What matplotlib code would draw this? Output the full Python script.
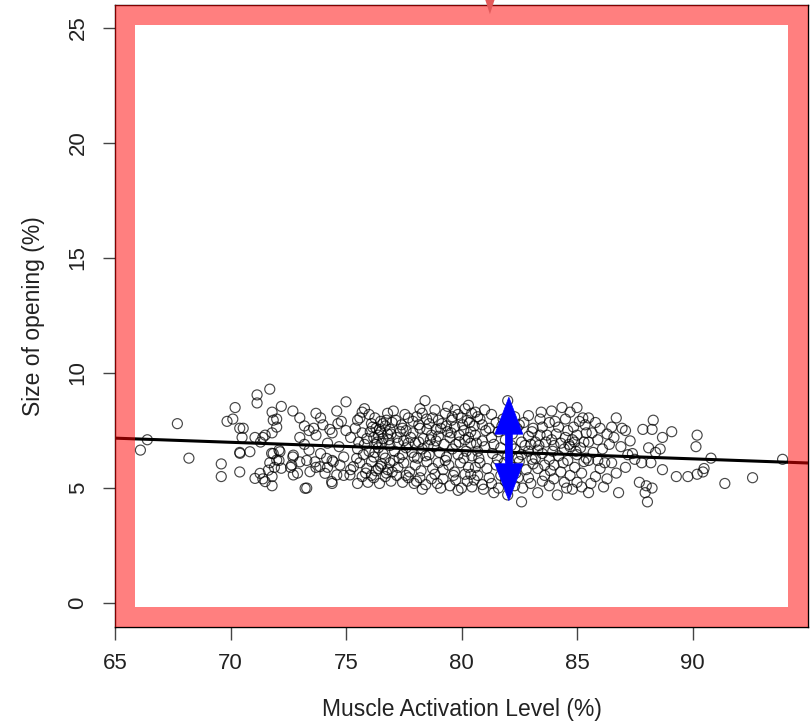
import numpy as np
import matplotlib
matplotlib.use("Agg")
import matplotlib.pyplot as plt
from matplotlib.patches import Rectangle, Polygon

plt.rcParams['font.family'] = ['Liberation Sans', 'DejaVu Sans']

# ---------------- data ----------------
activation = [
    66.1, 66.4, 67.7, 68.2, 69.6, 69.6, 69.85, 70.2, 70.1, 70.4,
    70.5, 70.4, 70.4, 70.55, 70.84, 71.06, 71.15, 71.15, 71.7, 72.2,
    71.8, 71.85, 72.0, 71.8, 71.4, 71.5, 72.7, 73.0, 73.2, 73.0,
    72.1, 71.85, 71.7, 72.1, 71.9, 71.4, 71.06, 71.8, 71.8, 71.28,
    71.5, 72.6, 72.9, 73.3, 72.7, 73.3, 73.7, 73.9, 74.4, 73.7,
    73.9, 74.6, 75.0, 74.65, 74.4, 75.0, 74.2, 74.4, 74.9, 75.2,
    75.5, 75.7, 75.5, 73.7, 73.4, 73.4, 74.2, 74.9, 71.78, 72.14,
    72.0, 72.2, 71.64, 72.72, 72.65, 73.0, 72.72, 73.44, 73.66, 73.87,
    74.16, 74.09, 74.45, 74.6, 74.74, 75.17, 75.32, 75.46, 73.23, 74.38,
    70.41, 72.0, 71.3, 73.6, 74.0, 74.3, 74.8, 75.2, 74.7, 73.2,
    # 75.4 - 80.5
    75.8, 76.8, 76.25, 75.6, 75.4, 75.7, 76.1, 76.3, 76.5, 76.7,
    76.4, 76.6, 76.9, 77.0, 76.2, 76.5, 76.8, 76.35, 76.05, 76.75,
    77.7, 78.06, 78.42, 78.49, 78.85, 79.0, 79.3, 79.57, 79.72, 80.0,
    80.15, 80.44, 77.4, 77.6, 77.9, 78.2, 78.5, 78.7, 79.1, 79.4,
    79.7, 80.1, 80.3, 77.2, 77.5, 78.0, 78.35, 78.9, 79.25, 79.9,
    75.5, 75.8, 76.0, 76.2, 76.4, 76.6, 76.9, 77.1, 77.3, 77.6,
    77.85, 78.1, 78.3, 78.6, 78.8, 79.05, 79.35, 79.6, 79.85, 80.2,
    75.6, 75.9, 76.1, 76.3, 76.55, 76.8, 77.05, 77.25, 77.5, 77.75,
    78.0, 78.25, 78.5, 78.75, 79.0, 79.2, 79.45, 79.7, 79.95, 80.3,
    75.7, 75.95, 76.2, 76.45, 76.7, 76.95, 77.2, 77.45, 77.7, 77.95,
    78.2, 78.45, 78.7, 78.95, 79.2, 79.5, 79.75, 80.0, 80.25, 80.45,
    76.15, 76.45, 76.6, 76.85, 76.3, 76.55, 76.7, 76.25, 76.5, 76.9,
    77.0, 76.75, 76.4, 76.1, 77.35, 77.8, 78.15, 78.6, 79.15, 79.5,
    80.05, 80.35, 77.55, 78.3, 79.85, 80.4, 80.1, 79.3, 78.45, 77.45,
    77.15, 77.9, 78.75, 79.6, 80.25, 78.05, 78.85, 79.65, 80.15, 77.6,
    78.3, 79.1, 79.85, 80.4, 78.55, 79.75, 80.45, 77.95, 76.95, 77.25,
    75.9, 75.55, 75.75, 75.85, 76.0, 77.05, 78.2, 79.4, 80.3, 78.9,
    79.55, 79.9, 80.15, 80.4, 77.7, 78.65, 79.0, 79.35, 78.15, 77.45,
    # 80.5 - 85.5
    81.0, 80.7, 80.9, 81.5, 81.2, 82.0, 82.7, 83.1, 83.4, 84.35,
    84.7, 85.0, 85.25, 85.35, 83.7, 83.9, 84.1, 84.3, 84.5, 84.7,
    84.8, 84.0, 84.45, 83.0, 83.3, 80.8, 81.1, 81.5, 80.7, 81.2,
    81.7, 80.9, 81.4, 82.6, 82.65, 82.9, 83.3, 83.6, 84.0, 84.3,
    84.7, 85.0, 83.8, 84.55, 83.3, 84.15, 80.6, 80.9, 81.3, 81.6,
    81.9, 82.2, 82.4, 82.6, 82.9, 83.2, 83.5, 83.8, 84.2, 84.6,
    85.0, 85.3, 80.7, 81.0, 81.35, 81.7, 82.0, 82.3, 82.6, 82.9,
    83.2, 83.5, 83.8, 84.2, 84.6, 85.0, 85.3, 81.85, 82.2, 82.5,
    82.8, 83.1, 83.6, 84.9, 85.2, 80.6, 81.3, 81.9, 82.3, 82.0,
    80.8, 81.3, 81.8, 82.3, 82.9, 83.4, 83.9, 84.5, 85.1, 80.55,
    81.05, 81.75, 82.5, 83.05, 83.65, 84.05, 84.85, 80.65, 81.4, 82.15,
    82.75, 83.35, 84.65, 85.15, 80.75, 81.55, 82.45, 83.05, 83.95, 84.95,
    80.55, 81.6, 82.1, 82.45, 83.5, 84.0, 84.45, 85.2, 83.0, 84.8,
    80.95, 81.85, 82.35, 83.85, 84.4, 85.4, 80.6, 84.9, 85.4, 83.45,
    # 85.5 - 94
    85.5, 85.8, 86.0, 85.65, 85.9, 85.5, 86.7, 86.5, 86.95, 87.1,
    88.3, 87.85, 88.25, 89.1, 90.2, 90.15, 86.9, 87.4, 88.1, 88.4,
    88.6, 87.8, 88.2, 88.7, 89.3, 89.8, 90.2, 87.1, 86.7, 86.3,
    85.6, 85.5, 86.8, 87.7, 88.0, 88.25, 87.95, 88.05, 86.2, 85.9,
    86.5, 85.5, 90.8, 90.5, 90.45, 91.4, 92.6, 93.9, 86.1, 86.4,
    86.6, 87.3, 87.5, 85.7, 86.0, 86.3, 87.2, 88.7, 85.8, 86.15,
]

opening = [
    6.65, 7.1, 7.8, 6.3, 6.05, 5.5, 7.9, 8.5, 8.0, 7.6,
    7.2, 6.55, 5.7, 7.6, 6.58, 7.2, 9.05, 8.7, 9.3, 8.55,
    8.3, 7.95, 7.65, 7.4, 7.2, 7.3, 8.35, 8.05, 7.7, 7.2,
    6.65, 6.5, 6.1, 6.2, 5.9, 5.4, 5.42, 5.1, 5.5, 5.64,
    5.28, 5.9, 5.65, 5.0, 6.35, 6.2, 5.9, 6.5, 5.2, 8.25,
    8.05, 8.35, 8.75, 7.8, 7.4, 7.5, 6.95, 6.2, 6.35, 5.8,
    5.2, 8.3, 7.95, 7.3, 7.5, 6.65, 5.9, 5.55, 6.51, 6.58,
    6.22, 5.86, 5.78, 6.43, 6.0, 6.14, 5.57, 5.71, 6.14, 5.93,
    6.29, 5.64, 6.14, 5.57, 6.0, 5.57, 5.93, 6.29, 4.99, 5.28,
    6.51, 8.0, 7.0, 7.6, 7.75, 7.55, 7.9, 7.2, 6.8, 6.9,
    # 75.4 - 80.5
    8.45, 8.25, 8.05, 8.05, 7.6, 7.4, 7.8, 7.6, 7.45, 7.7,
    7.3, 7.15, 7.55, 7.85, 7.2, 7.9, 7.35, 7.0, 7.45, 7.95,
    8.05, 8.1, 8.8, 8.0, 8.4, 7.95, 8.25, 7.95, 8.4, 8.05,
    8.45, 8.25, 7.75, 7.5, 7.4, 7.6, 7.55, 7.3, 7.6, 7.45,
    7.65, 7.5, 7.2, 7.2, 7.05, 6.95, 7.15, 7.05, 6.9, 7.0,
    6.7, 6.9, 6.6, 6.35, 6.75, 6.5, 6.85, 6.6, 6.3, 6.75,
    6.55, 6.3, 6.7, 6.45, 6.8, 6.55, 6.35, 6.7, 6.45, 6.6,
    6.1, 5.85, 6.15, 5.75, 6.05, 5.8, 6.2, 5.9, 6.1, 5.7,
    6.0, 5.75, 6.15, 5.85, 6.1, 5.8, 6.0, 5.7, 6.1, 5.9,
    5.5, 5.25, 5.45, 5.2, 5.5, 5.3, 5.55, 5.25, 5.45, 5.2,
    5.45, 5.15, 5.4, 5.2, 5.4, 5.1, 5.35, 5.0, 5.3, 5.05,
    7.65, 7.55, 7.8, 7.1, 6.9, 6.95, 6.3, 6.55, 5.95, 6.1,
    5.7, 5.65, 5.85, 5.55, 7.45, 7.2, 7.0, 7.8, 7.8, 7.2,
    7.75, 7.85, 8.2, 8.25, 8.2, 6.95, 6.3, 6.2, 6.4, 6.45,
    7.95, 7.9, 8.05, 8.1, 7.95, 5.3, 5.6, 5.55, 5.6, 5.55,
    4.95, 5.0, 4.9, 5.6, 6.85, 6.9, 6.4, 6.35, 7.35, 6.95,
    7.15, 7.0, 6.45, 5.65, 8.2, 8.35, 8.45, 8.55, 8.6, 7.55,
    7.4, 7.3, 7.1, 7.45, 6.95, 7.1, 7.25, 7.7, 7.75, 7.6,
    # 80.5 - 85.5
    8.4, 8.1, 7.75, 7.85, 7.6, 8.8, 7.85, 7.6, 7.3, 8.5,
    8.3, 8.5, 8.05, 7.75, 7.3, 7.1, 7.35, 6.95, 7.2, 6.8,
    7.1, 6.85, 6.7, 6.9, 6.65, 6.1, 5.85, 6.0, 5.55, 5.45,
    5.55, 5.15, 4.8, 4.4, 5.0, 5.45, 5.85, 5.55, 6.0, 5.7,
    5.55, 5.25, 5.1, 5.0, 4.8, 4.7, 7.3, 7.05, 7.2, 7.45,
    7.1, 7.35, 7.6, 7.0, 7.25, 7.0, 7.65, 7.85, 7.65, 7.5,
    7.3, 7.0, 6.6, 6.8, 6.5, 6.75, 6.4, 6.7, 6.45, 6.6,
    6.3, 6.5, 6.25, 6.4, 6.2, 6.45, 6.15, 6.1, 5.9, 6.15,
    5.8, 6.05, 6.0, 5.9, 5.65, 5.9, 5.2, 5.3, 5.1, 4.7,
    8.0, 8.2, 8.0, 8.1, 8.15, 8.0, 8.35, 8.0, 7.9, 7.7,
    7.5, 7.7, 7.75, 7.45, 7.0, 7.9, 7.65, 6.95, 6.9, 6.85,
    6.85, 6.85, 6.9, 6.75, 6.3, 6.25, 6.3, 6.25, 6.6, 6.6,
    5.35, 5.0, 5.6, 5.45, 5.3, 5.4, 5.25, 5.05, 5.2, 4.95,
    4.95, 5.75, 5.65, 5.75, 6.1, 6.3, 8.3, 7.0, 7.4, 8.3,
    # 85.5 - 94
    8.05, 7.85, 7.6, 7.4, 7.1, 7.0, 8.05, 7.65, 7.6, 7.5,
    7.95, 7.55, 7.55, 7.45, 7.3, 6.8, 6.8, 6.5, 6.75, 6.55,
    6.7, 6.1, 6.1, 5.8, 5.5, 5.5, 5.6, 5.9, 5.65, 5.4,
    5.2, 4.8, 4.8, 5.25, 5.1, 5.0, 4.8, 4.4, 6.1, 6.2,
    6.1, 6.2, 6.3, 5.85, 5.7, 5.2, 5.45, 6.25, 6.7, 6.9,
    7.2, 7.05, 6.25, 6.55, 5.85, 7.35, 6.45, 7.2, 5.5, 5.05,
]

x_ticks = [65, 70, 75, 80, 85, 90]
y_ticks = [0, 5, 10, 15, 20, 25]
x_label = "Muscle Activation Level (%)"
y_label = "Size of opening (%)"

# regression line as drawn in the picture (value at x=65 and slope)
fit_intercept_at_65 = 7.17
fit_slope = -0.036

# blue double arrow (data units)
arrow_x = 82.05
arrow_y_top = 8.95
arrow_y_bottom = 4.45

# ---------------- figure ----------------
W, H = 812, 724
fig = plt.figure(figsize=(W / 100, H / 100), dpi=100)
left_px, right_px, top_px, bottom_px = 115, 808, 5, 627
ax = fig.add_axes([left_px / W, (H - bottom_px) / H,
                   (right_px - left_px) / W, (bottom_px - top_px) / H])

ax.set_xlim(65, 95.0)
ax.set_ylim(-1.04, 26.0)

ax.scatter(activation, opening, s=52, facecolors='none',
           edgecolors='black', linewidths=0.85, alpha=0.72, zorder=2)

xl = np.array(ax.get_xlim())
ax.plot(xl, fit_intercept_at_65 + fit_slope * (xl - 65), color='black',
        lw=2.2, zorder=3)

ax.set_xticks(x_ticks)
ax.set_yticks(y_ticks)
ax.tick_params(axis='both', direction='out', length=9, width=1,
               color='#444444', labelsize=16, labelcolor='#222222', pad=10)
for lab in ax.get_yticklabels():
    lab.set_rotation(90)
    lab.set_va('center')
ax.set_xlabel(x_label, fontsize=16.5, color='#222222', labelpad=17)
ax.set_ylabel(y_label, fontsize=16.5, color='#222222', labelpad=16)
for sp in ax.spines.values():
    sp.set_color('black')
    sp.set_linewidth(1)

# thick translucent red frame over the plot region
bw = 20 / 100 * 72  # 20 px in points
rect = Rectangle((0, 0), 1, 1, transform=ax.transAxes, fill=False,
                 edgecolor=(1, 0, 0, 0.5), linewidth=bw * 2,
                 clip_on=True, zorder=10)
ax.add_patch(rect)

# small red arrow tip at the top
tri = Polygon([(81.02, 26.25), (81.44, 26.25), (81.23, 25.6)], closed=True,
              facecolor='#e35a5a', edgecolor='none', clip_on=False, zorder=11,
              transform=ax.transData)
ax.add_patch(tri)

# blue double-headed arrow, sizes given in pixels and converted to data units
px_x = (ax.get_xlim()[1] - ax.get_xlim()[0]) / (right_px - left_px)
px_y = (ax.get_ylim()[1] - ax.get_ylim()[0]) / (bottom_px - top_px)
head_len = 37 * px_y
head_half = 14 * px_x
shaft_half = 3.5 * px_x
verts = [
    (arrow_x, arrow_y_top),
    (arrow_x + head_half, arrow_y_top - head_len),
    (arrow_x + shaft_half, arrow_y_top - head_len),
    (arrow_x + shaft_half, arrow_y_bottom + head_len),
    (arrow_x + head_half, arrow_y_bottom + head_len),
    (arrow_x, arrow_y_bottom),
    (arrow_x - head_half, arrow_y_bottom + head_len),
    (arrow_x - shaft_half, arrow_y_bottom + head_len),
    (arrow_x - shaft_half, arrow_y_top - head_len),
    (arrow_x - head_half, arrow_y_top - head_len),
]
ax.add_patch(Polygon(verts, closed=True, facecolor='#0000ff',
                     edgecolor='#0000ff', lw=0.5, zorder=12))

fig.savefig('out.png', dpi=100)
